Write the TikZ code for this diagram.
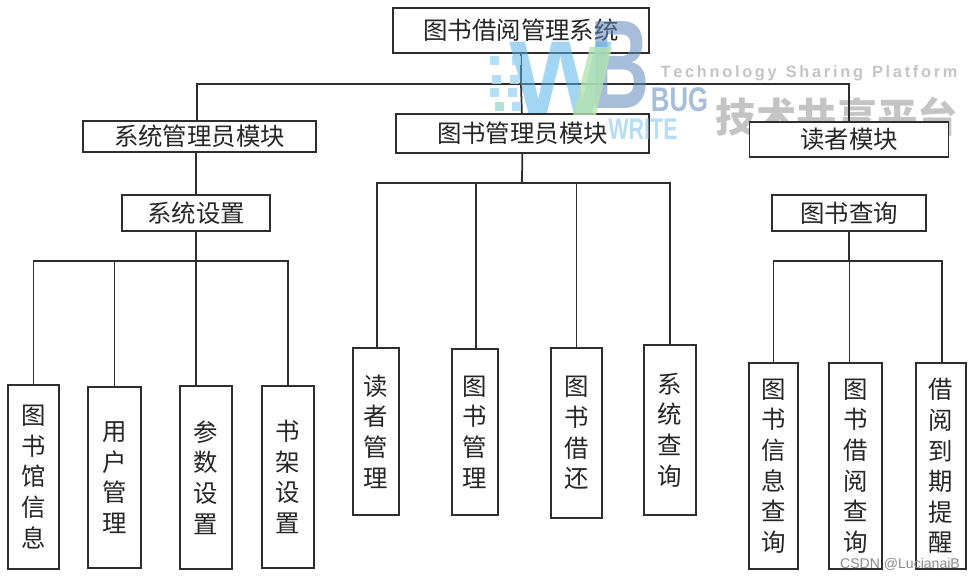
\documentclass[tikz,border=0pt]{standalone}
\usepackage{fontspec}
\setmainfont{Liberation Sans}
\newfontfamily\cjk{Noto Sans CJK SC}
\usepackage{tikz}
\usetikzlibrary{positioning}
\definecolor{lineDark}{HTML}{2E2E2E}
\definecolor{markGrey}{HTML}{C4C4C4}
\definecolor{markBlue}{HTML}{58B4EA}
\definecolor{markSlate}{HTML}{5F88BC}
\definecolor{markGreen}{HTML}{B5E3B0}
\definecolor{markSky}{HTML}{A9D8F5}
\definecolor{markTeal}{HTML}{A5DDD5}

\begin{document}
\begin{tikzpicture}[x=0.02cm, y=-0.02cm,
  hbox/.style={draw=lineDark, fill=white, line width=1pt, inner sep=0pt, font=\cjk\fontsize{13.9}{17}\selectfont, text=black!85},
  vbox/.style={hbox, align=center, font=\cjk\fontsize{13.9}{17.4}\selectfont},
  link/.style={draw=lineDark, line width=1pt},
  wmark/.style={inner sep=0pt, anchor=center}]
  \useasboundingbox (0,0) rectangle (974,580);
  % grey watermark, under the boxes
  \node[wmark, font=\bfseries\fontsize{9.3}{11}\selectfont, text=markGrey] (platform) at (809,73) {T\,e\,c\,h\,n\,o\,l\,o\,g\,y\ \ S\,h\,a\,r\,i\,n\,g\ \ P\,l\,a\,t\,f\,o\,r\,m};
  \node[wmark, font=\cjk\bfseries\fontsize{23}{26}\selectfont, text=markGrey] (share) at (837,117) {技术共享平台};
  % top levels
  \node[hbox, minimum width=5.12cm, minimum height=0.9cm] (root) at (521,30.5) {图书借阅管理系统};
  \node[hbox, minimum width=4.66cm, minimum height=0.62cm] (sysadmin) at (199.5,136.5) {系统管理员模块};
  \node[hbox, minimum width=5.06cm, minimum height=0.78cm] (bookadmin) at (522.5,133.5) {图书管理员模块};
  \node[hbox, minimum width=3.98cm, minimum height=0.7cm] (reader) at (849,139.5) {读者模块};
  \node[hbox, minimum width=2.96cm, minimum height=0.72cm] (settings) at (196,213) {系统设置};
  \node[hbox, minimum width=3.08cm, minimum height=0.72cm] (query) at (849,213) {图书查询};
  % left leaves
  \node[vbox, minimum width=1.02cm, minimum height=3.68cm] (library) at (33.5,477) {图\\书\\馆\\信\\息};
  \node[vbox, minimum width=1.06cm, minimum height=3.62cm] (users) at (114.5,477.5) {用\\户\\管\\理};
  \node[vbox, minimum width=1.04cm, minimum height=3.66cm] (params) at (206,477.5) {参\\数\\设\\置};
  \node[vbox, minimum width=1.04cm, minimum height=3.64cm] (shelves) at (288,477) {书\\架\\设\\置};
  % middle leaves
  \node[vbox, minimum width=0.92cm, minimum height=3.34cm] (readers) at (376,431.5) {读\\者\\管\\理};
  \node[vbox, minimum width=0.92cm, minimum height=3.32cm] (books) at (475,432) {图\\书\\管\\理};
  \node[vbox, minimum width=1.02cm, minimum height=3.4cm] (lending) at (576.5,433) {图\\书\\借\\还};
  \node[vbox, minimum width=1.04cm, minimum height=3.4cm] (search) at (670,430) {系\\统\\查\\询};
  % right leaves
  \node[vbox, minimum width=0.98cm, minimum height=4.12cm] (bookinfo) at (773.5,466) {图\\书\\信\\息\\查\\询};
  \node[vbox, minimum width=1.06cm, minimum height=4.12cm] (borrowinfo) at (855.5,466) {图\\书\\借\\阅\\查\\询};
  \node[vbox, minimum width=1cm, minimum height=4.12cm] (remind) at (941,466) {借\\阅\\到\\期\\提\\醒};
  % buses
  \coordinate (topbus) at (521,84);
  \coordinate (leftbus) at (196,261);
  \coordinate (midbus) at (522,183);
  \coordinate (rightbus) at (849,261);
  \draw[link] (root) -- (topbus) -- (bookadmin);
  \draw[link] (topbus) -| ([xshift=-0.05cm]sysadmin.north);
  \draw[link] (topbus) -| (reader.north);
  \draw[link] (sysadmin.south -| settings.north) -- (settings.north);
  \draw[link] (settings) -- (leftbus);
  \foreach \leaf/\bx in {library/0,users/0,params/-0.2,shelves/0} \draw[link] (leftbus) -| ([xshift=\bx cm]\leaf.north);
  \draw[link] (bookadmin) -- (midbus);
  \foreach \leaf/\bx in {readers/0.02,books/0.02,lending/0,search/0} \draw[link] (midbus) -| ([xshift=\bx cm]\leaf.north);
  \draw[link] (query) -- (rightbus);
  \foreach \leaf/\bx in {bookinfo/0,borrowinfo/-0.12,remind/0.02} \draw[link] (rightbus) -| ([xshift=\bx cm]\leaf.north);
  % logo watermark, over the boxes
  \node[wmark, font=\bfseries\fontsize{72}{72}\selectfont, text=markSlate, opacity=0.55, xscale=0.65] (logob) at (620,65) {B};
  \node[wmark, font=\bfseries\fontsize{59}{59}\selectfont, text=markBlue, opacity=0.55, xscale=1.05] (logow) at (561,77.5) {W};
  \fill[markGreen, opacity=0.8] (590,47) -- (612,47) -- (596,115) -- (573,115) -- cycle;
  \foreach \dx/\dy in {490/56,512/56,492/75,510/75,490/88,508/88,512/102}
    \fill[markSky, opacity=0.85] (\dx,\dy) rectangle ++(9,9);
  \fill[markTeal, opacity=0.85] (495,102) rectangle ++(9,9);
  \node[wmark, font=\bfseries\fontsize{19.5}{20}\selectfont, text=markSlate, opacity=0.55, xscale=0.75] (bug) at (679.5,100) {BUG};
  \node[wmark, font=\bfseries\fontsize{17}{17}\selectfont, text=markSky, opacity=0.85, xscale=0.72] (write) at (643,129) {WRITE};
  \node[wmark, font=\fontsize{8}{9}\selectfont, text=black!45] (csdn) at (900,564) {CSDN @LucianaiB};
\end{tikzpicture}
\end{document}
